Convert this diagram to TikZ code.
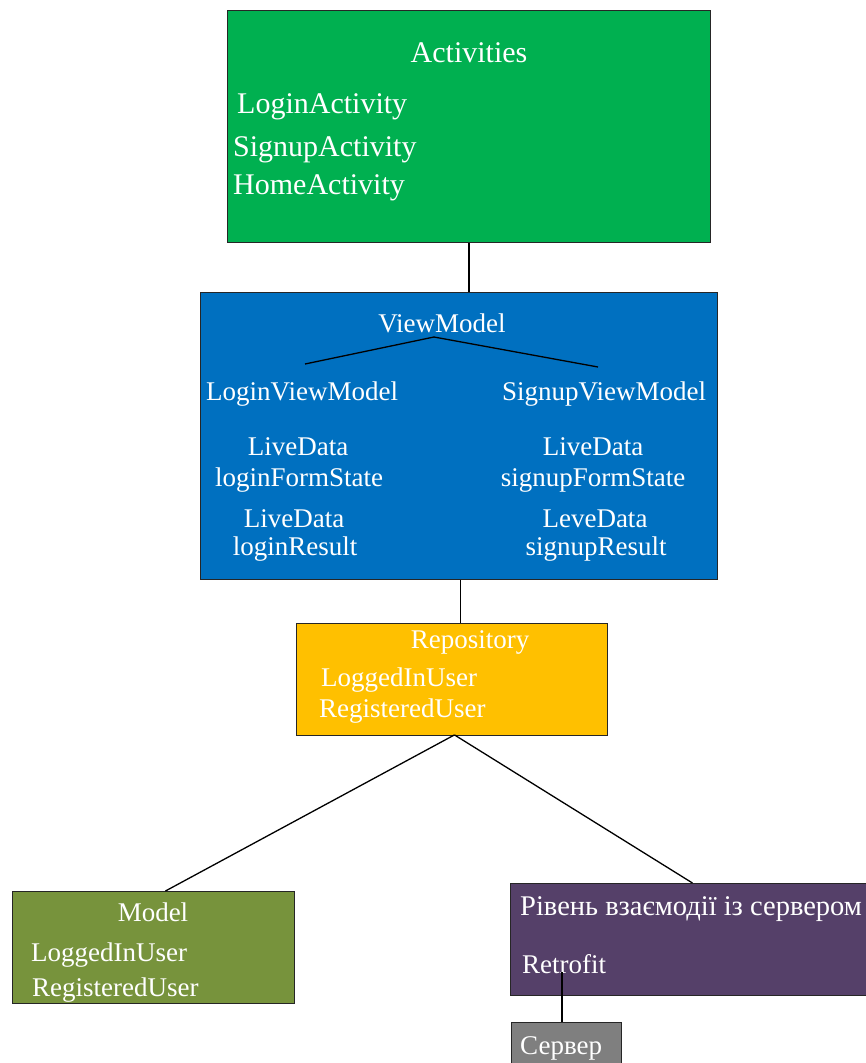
\documentclass[tikz,border=0pt]{standalone}
\usepackage{fontspec}
\setmainfont{Liberation Serif}
\definecolor{actgreen}{HTML}{00B050}
\definecolor{vmblue}{HTML}{0070C0}
\definecolor{repoyellow}{HTML}{FFC000}
\definecolor{modelolive}{HTML}{77933C}
\definecolor{netpurple}{HTML}{554069}
\definecolor{srvgray}{HTML}{7F7F7F}
\tikzset{
  layer/.style={draw=black!85, line width=0.9pt, inner sep=0pt, anchor=north west},
  lbl/.style={text=white, inner sep=0pt, yshift=-3pt, font=\fontsize{27}{30}\selectfont},
  biglbl/.style={text=white, inner sep=0pt, yshift=-3pt, font=\fontsize{30}{33}\selectfont},
  link/.style={draw=black, line width=1.3pt}
}
\begin{document}
\begin{tikzpicture}[x=1pt, y=-1pt]
\useasboundingbox (0,0) rectangle (865,1063);

% layer boxes
\node[layer, fill=actgreen, minimum width=483pt, minimum height=232pt] (act) at (227,10) {};
\node[layer, fill=vmblue, minimum width=517pt, minimum height=287pt] (vm) at (200,292) {};
\node[layer, fill=repoyellow, minimum width=311pt, minimum height=112pt] (repo) at (296,623) {};
\node[layer, fill=modelolive, minimum width=282pt, minimum height=112pt] (model) at (12,891) {};
\node[layer, fill=netpurple, minimum width=360pt, minimum height=112pt] (net) at (510,883) {};
\node[layer, fill=srvgray, minimum width=110pt, minimum height=60pt] (srv) at (511,1022) {};

% Activities
\node[biglbl] (actT) at (469,50) {Activities};
\node[biglbl, anchor=west] (actA) at (237,104) {LoginActivity};
\node[biglbl, anchor=west] (actB) at (233,147) {SignupActivity};
\node[biglbl, anchor=west] (actC) at (233,185) {HomeActivity};

% ViewModel
\node[lbl] (vmT) at (442,320) {ViewModel};
\node[lbl, anchor=west] (lvm) at (206,391) {LoginViewModel};
\node[lbl, anchor=west] (svm) at (502,391) {SignupViewModel};
\node[lbl] (l1) at (298,444) {LiveData};
\node[lbl] (l2) at (299,477) {loginFormState};
\node[lbl] (l3) at (294,516) {LiveData};
\node[lbl] (l4) at (295,546) {loginResult};
\node[lbl] (s1) at (593,444) {LiveData};
\node[lbl] (s2) at (593,477) {signupFormState};
\node[lbl] (s3) at (595,516) {LeveData};
\node[lbl] (s4) at (596,546) {signupResult};
\coordinate (fork) at (434,337);
\coordinate (forkL) at (305,364);
\coordinate (forkR) at (598,367);
\draw[link] (forkL) -- (fork) -- (forkR);

% Repository
\node[lbl] (repoT) at (470,639) {Repository};
\node[lbl, anchor=west] (repoA) at (321,677) {LoggedInUser};
\node[lbl, anchor=west] (repoB) at (319,708) {RegisteredUser};

% Model
\node[lbl] (modelT) at (153,909) {Model};
\node[lbl, anchor=west] (modelA) at (31,952) {LoggedInUser};
\node[lbl, anchor=west] (modelB) at (32,987) {RegisteredUser};

% Network layer
\node[lbl, anchor=west, font=\fontsize{28.5}{31}\selectfont] (netT) at (520,906) {Рівень взаємодії із сервером};
\node[lbl, anchor=west] (netA) at (522,961) {Retrofit};
\node[lbl, anchor=west] (srvT) at (520,1045) {Сервер};

% connectors between layers
\draw[link] (act.south) -- (act.south |- vm.north);
\draw[link] ([xshift=1.5pt]vm.south) -- ([xshift=1.5pt]vm.south |- repo.north);
\draw[link] ([xshift=2.5pt,yshift=1pt]repo.south) -- ([xshift=12pt]model.north);
\draw[link] ([xshift=2.5pt,yshift=1pt]repo.south) -- ([xshift=2pt]net.north);
\coordinate (rt) at (562,972);
\draw[link] (rt) -- (rt |- srv.north);
\end{tikzpicture}
\end{document}
